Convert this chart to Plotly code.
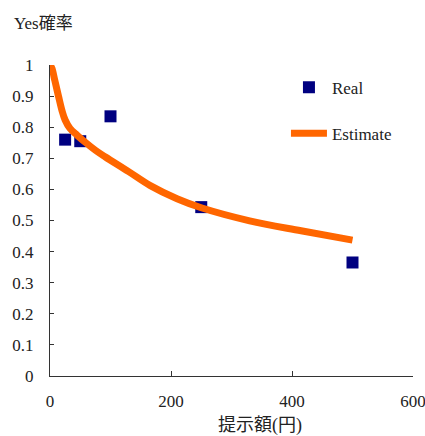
import plotly.graph_objects as go

# Observed data
real_x = [25, 50, 100, 250, 500]
real_y = [0.76, 0.755, 0.835, 0.543, 0.365]

# Estimated curve
est_x = [0, 3, 8, 14, 20, 25, 33, 45, 58, 75, 91, 130, 165, 210, 250, 330, 415, 500]
est_y = [1.0, 0.99, 0.95, 0.90, 0.852, 0.823, 0.796, 0.774, 0.752, 0.726, 0.705,
         0.657, 0.613, 0.57, 0.541, 0.499, 0.467, 0.437]

x_ticks = [0, 200, 400, 600]
y_ticks = [0, 0.1, 0.2, 0.3, 0.4, 0.5, 0.6, 0.7, 0.8, 0.9, 1]
y_tick_text = ["0", "0.1", "0.2", "0.3", "0.4", "0.5", "0.6", "0.7", "0.8", "0.9", "1"]

FONT = "Liberation Serif, DejaVu Serif, Noto Sans CJK JP, serif"
AXC = "#333333"
TXT = "#222222"

fig = go.Figure()
fig.add_trace(go.Scatter(
    x=real_x, y=real_y, mode="markers", name="Real", legendgroup="a",
    marker=dict(symbol="square", size=12, color="#000080"),
))
fig.add_trace(go.Scatter(
    x=est_x, y=est_y, mode="lines", name="Estimate", legendgroup="b",
    line=dict(color="#FF6600", width=7, shape="spline", smoothing=1.0),
))

fig.update_layout(
    width=425, height=436,
    margin=dict(l=50, r=12, t=65, b=60, autoexpand=False),
    paper_bgcolor="white", plot_bgcolor="white",
    font=dict(family=FONT, size=17, color=TXT),
    showlegend=True,
    legend=dict(x=0.65, y=0.985, xanchor="left", yanchor="top",
                bgcolor="rgba(0,0,0,0)", tracegroupgap=21, itemwidth=36,
                font=dict(family=FONT, size=17, color=TXT)),
    xaxis=dict(range=[0, 600], tickvals=x_ticks, showgrid=False, zeroline=False,
               showline=True, linecolor=AXC, linewidth=1, automargin=False,
               ticks="inside", ticklen=5, tickcolor=AXC,
               ticklabelstandoff=10, ticklabeloverflow="allow"),
    yaxis=dict(range=[0, 1], tickvals=y_ticks, ticktext=y_tick_text, showgrid=False,
               zeroline=False, showline=True, linecolor=AXC, linewidth=1, automargin=False,
               ticks="inside", ticklen=4, tickcolor=AXC,
               ticklabelstandoff=12, ticklabeloverflow="allow"),
    annotations=[
        dict(text="Yes確率", xref="paper", yref="paper", x=-0.105, y=1.135,
             xanchor="left", yanchor="middle", showarrow=False,
             font=dict(family=FONT, size=17, color=TXT)),
        dict(text="提示額(円)", xref="paper", yref="paper", x=0.579, y=-0.16,
             xanchor="center", yanchor="middle", showarrow=False,
             font=dict(family=FONT, size=18, color=TXT)),
    ],
)

fig.write_html(
    "out.html",
    config={"displayModeBar": False},
    post_script="document.body.style.margin='0';document.body.style.overflow='hidden';",
)
